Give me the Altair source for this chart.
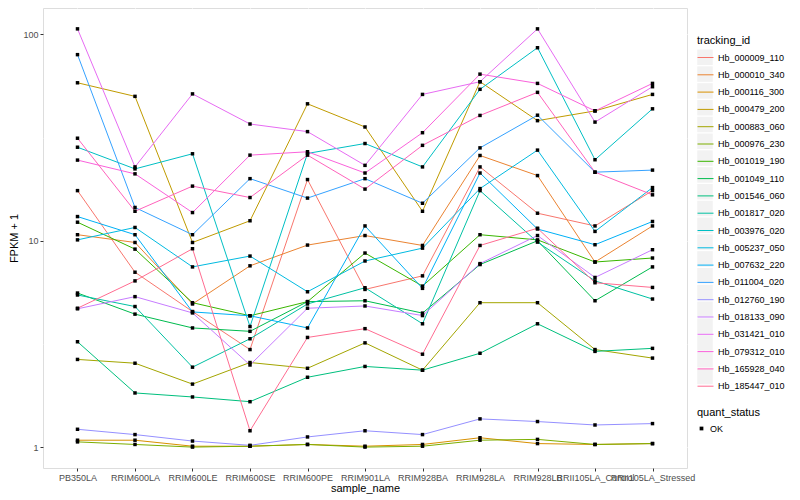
import altair as alt
import pandas as pd

samples = ["PB350LA", "RRIM600LA", "RRIM600LE", "RRIM600SE", "RRIM600PE", "RRIM901LA",
           "RRIM928BA", "RRIM928LA", "RRIM928LB", "RRII105LA_Control", "RRII105LA_Stressed"]

ids = ["Hb_000009_110", "Hb_000010_340", "Hb_000116_300", "Hb_000479_200", "Hb_000883_060",
       "Hb_000976_230", "Hb_001019_190", "Hb_001049_110", "Hb_001546_060", "Hb_001817_020",
       "Hb_003976_020", "Hb_005237_050", "Hb_007632_220", "Hb_011004_020", "Hb_012760_190",
       "Hb_018133_090", "Hb_031421_010", "Hb_079312_010", "Hb_165928_040", "Hb_185447_010"]

colors = ["#F8766D", "#EA8331", "#D89000", "#C09B00", "#A3A500", "#7CAE00", "#39B600", "#00BB4E",
          "#00BF7D", "#00C1A3", "#00BFC4", "#00BAE0", "#00B0F6", "#35A2FF", "#9590FF", "#C77CFF",
          "#E76BF3", "#FA62DB", "#FF62BC", "#FF6C91"]

hb_000009_110 = [17.5, 7.04, 4.54, 2.97, 19.8, 5.81, 6.76, 22.8, 13.6, 11.8, 17.5]
hb_000010_340 = [10.7, 9.81, 4.94, 7.56, 9.53, 10.6, 9.49, 25.9, 20.7, 7.89, 11.8]
hb_000116_300 = [1.08, 1.08, 1.01, 1.01, 1.03, 1.01, 1.03, 1.11, 1.04, 1.03, 1.04]
hb_000479_200 = [58.3, 50.1, 9.81, 12.5, 46.1, 35.6, 13.9, 59.0, 38.2, 42.6, 51.2]
hb_000883_060 = [2.66, 2.55, 2.02, 2.57, 2.41, 3.20, 2.36, 5.01, 5.01, 2.97, 2.70]
hb_000976_230 = [1.06, 1.03, 1.00, 1.01, 1.03, 1.00, 1.01, 1.08, 1.09, 1.03, 1.04]
hb_001019_190 = [12.3, 9.11, 5.01, 4.33, 5.07, 8.72, 6.03, 10.7, 10.1, 7.89, 8.25]
hb_001049_110 = [5.58, 4.41, 3.78, 3.64, 5.07, 5.12, 4.46, 7.67, 10.0, 5.12, 7.47]
hb_001546_060 = [3.24, 1.83, 1.75, 1.66, 2.18, 2.46, 2.36, 2.85, 3.96, 2.91, 3.01]
hb_001817_020 = [5.46, 4.80, 2.44, 3.35, 4.94, 5.92, 3.96, 17.5, 9.85, 6.39, 5.22]
hb_003976_020 = [28.4, 22.3, 26.4, 3.84, 26.5, 29.6, 22.8, 54.2, 86.2, 24.7, 43.6]
hb_005237_050 = [10.1, 11.6, 7.47, 8.43, 5.66, 7.98, 9.21, 17.9, 27.5, 11.1, 18.1]
hb_007632_220 = [13.1, 10.7, 4.52, 4.33, 3.78, 11.8, 5.88, 21.3, 11.4, 9.57, 12.4]
hb_011004_020 = [79.8, 14.5, 10.7, 20.0, 16.1, 20.0, 15.2, 28.2, 40.6, 21.5, 22.0]
hb_012760_190 = [1.22, 1.15, 1.07, 1.02, 1.12, 1.20, 1.15, 1.37, 1.33, 1.28, 1.30]
hb_018133_090 = [4.68, 5.36, 4.47, 2.50, 4.71, 4.83, 4.34, 7.75, 10.6, 6.64, 9.05]
hb_031421_010 = [106.4, 22.8, 51.5, 36.8, 33.8, 23.2, 51.2, 59.0, 106.4, 37.6, 55.8]
hb_079312_010 = [24.6, 21.1, 13.7, 26.0, 27.0, 21.3, 33.4, 64.2, 57.9, 42.6, 57.9]
hb_165928_040 = [31.4, 13.9, 18.4, 16.2, 26.0, 17.8, 29.0, 40.5, 52.4, 21.5, 16.7]
hb_185447_010 = [4.71, 6.39, 9.15, 1.20, 3.40, 3.75, 2.82, 9.49, 11.5, 6.26, 5.94]

series = [hb_000009_110, hb_000010_340, hb_000116_300, hb_000479_200, hb_000883_060,
          hb_000976_230, hb_001019_190, hb_001049_110, hb_001546_060, hb_001817_020,
          hb_003976_020, hb_005237_050, hb_007632_220, hb_011004_020, hb_012760_190,
          hb_018133_090, hb_031421_010, hb_079312_010, hb_165928_040, hb_185447_010]

rows = []
for i, (tid, vals) in enumerate(zip(ids, series)):
    for j, (s, v) in enumerate(zip(samples, vals)):
        rows.append({"tracking_id": tid, "key_id": tid, "sample_name": s, "fpkm1": v,
                     "quant_status": "OK", "order": j})
df = pd.DataFrame(rows)

FONT = "Liberation Sans"
major_test = "datum.value == 1 || datum.value == 10 || datum.value == 100"
LEG_X = 654
LEG_Y = 27

x_enc = alt.X("sample_name:N", sort=samples,
              scale=alt.Scale(type="point", padding=0.6),
              axis=alt.Axis(title="sample_name", labelAngle=0, labelOverlap=False,
                            labelBound=False, labelFlush=False, labelAlign="center",
                            grid=True, gridColor="white", gridWidth=1.1,
                            domain=False, tickColor="#333333", tickSize=3,
                            labelColor="#4D4D4D", labelFontSize=9, labelPadding=2,
                            titleFontSize=11, titleFontWeight="normal", titleColor="black",
                            titlePadding=0))

y_enc = alt.Y("fpkm1:Q",
              scale=alt.Scale(type="log", domain=[0.792, 134.3], nice=False, zero=False),
              axis=alt.Axis(title="FPKM + 1", values=[1, 3.1623, 10, 31.623, 100],
                            labelExpr="datum.value == 1 ? '1' : datum.value == 10 ? '10' : datum.value == 100 ? '100' : ''",
                            grid=True, gridColor="white",
                            gridWidth={"condition": {"test": major_test, "value": 1.1}, "value": 0.55},
                            tickOpacity={"condition": {"test": major_test, "value": 1}, "value": 0},
                            domain=False, tickColor="#333333", tickSize=3,
                            labelColor="#4D4D4D", labelFontSize=9, labelPadding=2,
                            titleFontSize=11, titleFontWeight="normal", titleColor="black",
                            titlePadding=3))

# grey key backgrounds for the tracking_id legend (the marks are invisible in the plot)
keys = alt.Chart(df).mark_square(opacity=0).encode(
    x=x_enc,
    y=y_enc,
    fill=alt.Fill("key_id:N",
                  scale=alt.Scale(range=["#F2F2F2"] * len(ids)),
                  legend=alt.Legend(title=" ", orient="none",
                                    legendX=LEG_X, legendY=LEG_Y,
                                    symbolType="square", symbolSize=240,
                                    symbolStrokeWidth=0, symbolOpacity=1,
                                    labelExpr="''",
                                    labelFontSize=9, titleFontSize=11,
                                    titleFontWeight="normal", titleColor="transparent",
                                    labelColor="transparent", rowPadding=0.8,
                                    titlePadding=3.3)),
)

lines = alt.Chart(df).mark_line(strokeWidth=1).encode(
    x=x_enc,
    y=y_enc,
    color=alt.Color("tracking_id:N",
                    scale=alt.Scale(domain=ids, range=colors),
                    legend=alt.Legend(title="tracking_id", orient="none",
                                      legendX=LEG_X, legendY=LEG_Y,
                                      symbolType="stroke", symbolStrokeWidth=1,
                                      symbolSize=256, labelFontSize=9, titleFontSize=11,
                                      titleFontWeight="normal", titleColor="black",
                                      labelColor="black", rowPadding=3.3,
                                      titlePadding=3)),
    detail="tracking_id:N",
    order="order:Q",
)

points = alt.Chart(df).mark_point(filled=True, color="black", size=12, opacity=1).encode(
    x=alt.X("sample_name:N", sort=samples),
    y=alt.Y("fpkm1:Q"),
    shape=alt.Shape("quant_status:N",
                    scale=alt.Scale(domain=["OK"], range=["square"]),
                    legend=alt.Legend(title="quant_status", orient="none",
                                      legendX=LEG_X, legendY=399,
                                      symbolFillColor="black", symbolStrokeColor="black",
                                      symbolSize=14, labelFontSize=9, titleFontSize=11,
                                      titleFontWeight="normal", titleColor="black",
                                      labelColor="black", titlePadding=6)),
)

chart = alt.layer(keys, lines, points).properties(
    width=644, height=460,
    padding={"left": 0, "top": 0, "right": 0, "bottom": 5},
).configure_view(
    fill="#EBEBEB", stroke=None
).configure(
    font=FONT
)

chart.save("out.html", embed_options={"renderer": "svg", "actions": False})
